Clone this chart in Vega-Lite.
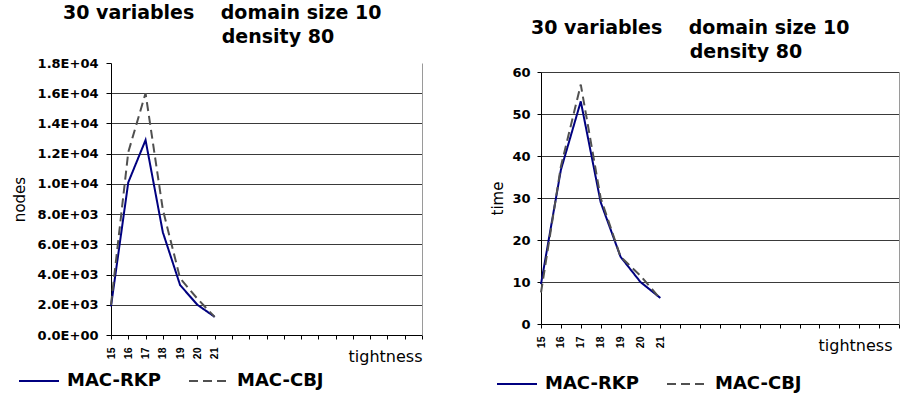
{
  "$schema": "https://vega.github.io/schema/vega-lite/v6.json",
  "background": "white",
  "padding": {"left": 12, "top": 4, "right": 0, "bottom": 0},
  "spacing": 62,
  "datasets": {
    "nodes": [
      {"tightness": 15, "series": "MAC-RKP", "value": 1900},
      {"tightness": 16, "series": "MAC-RKP", "value": 10100},
      {"tightness": 17, "series": "MAC-RKP", "value": 12900},
      {"tightness": 18, "series": "MAC-RKP", "value": 6800},
      {"tightness": 19, "series": "MAC-RKP", "value": 3300},
      {"tightness": 20, "series": "MAC-RKP", "value": 2000},
      {"tightness": 21, "series": "MAC-RKP", "value": 1200},
      {"tightness": 15, "series": "MAC-CBJ", "value": 2000},
      {"tightness": 16, "series": "MAC-CBJ", "value": 12100},
      {"tightness": 17, "series": "MAC-CBJ", "value": 16000},
      {"tightness": 18, "series": "MAC-CBJ", "value": 8300},
      {"tightness": 19, "series": "MAC-CBJ", "value": 3750},
      {"tightness": 20, "series": "MAC-CBJ", "value": 2400},
      {"tightness": 21, "series": "MAC-CBJ", "value": 1200}
    ],
    "time": [
      {"tightness": 15, "series": "MAC-RKP", "value": 9.5},
      {"tightness": 16, "series": "MAC-RKP", "value": 36.7},
      {"tightness": 17, "series": "MAC-RKP", "value": 53},
      {"tightness": 18, "series": "MAC-RKP", "value": 29},
      {"tightness": 19, "series": "MAC-RKP", "value": 16},
      {"tightness": 20, "series": "MAC-RKP", "value": 10},
      {"tightness": 21, "series": "MAC-RKP", "value": 6.2},
      {"tightness": 15, "series": "MAC-CBJ", "value": 7.5},
      {"tightness": 16, "series": "MAC-CBJ", "value": 37.5},
      {"tightness": 17, "series": "MAC-CBJ", "value": 57},
      {"tightness": 18, "series": "MAC-CBJ", "value": 30},
      {"tightness": 19, "series": "MAC-CBJ", "value": 16},
      {"tightness": 20, "series": "MAC-CBJ", "value": 11.5},
      {"tightness": 21, "series": "MAC-CBJ", "value": 6}
    ]
  },
  "hconcat": [
    {
      "width": 311,
      "height": 272,
      "data": {"name": "nodes"},
      "title": {
        "text": ["30 variables\u00a0\u00a0\u00a0\u00a0domain size 10", "\u200b\u00a0\u00a0\u00a0\u00a0\u00a0\u00a0\u00a0\u00a0\u00a0\u00a0\u00a0\u00a0\u00a0\u00a0\u00a0\u00a0\u00a0\u00a0\u00a0\u00a0\u00a0\u00a0\u00a0\u00a0density 80"],
        "anchor": "start", "frame": "group", "dx": -48, "offset": 10,
        "font": "DejaVu Sans", "fontSize": 19, "fontWeight": "bold", "lineHeight": 24, "color": "#000"
      },
      "layer": [
        {
          "mark": {"type": "line", "strokeWidth": 2},
          "encoding": {
            "x": {"field": "tightness", "type": "quantitative",
              "scale": {"domain": [15, 33], "nice": false, "zero": false},
              "axis": {
                "values": [15,16,17,18,19,20,21,22,23,24,25,26,27,28,29,30,31,32,33], "tickCount": 40, "format": "d",
                "labelExpr": "datum.value <= 21 ? datum.label : ''", "labelOverlap": false,
                "labelAngle": -90, "labelFont": "Liberation Sans", "labelFontWeight": "bold", "labelFontSize": 10.5,
                "labelColor": "#000", "labelPadding": 8, "tickSize": 4, "tickColor": "#000", "domainColor": "#000",
                "grid": false, "title": "tightness", "titleAnchor": "end", "titleAlign": "right",
                "titleY": 26, "titleBaseline": "alphabetic",
                "titleFont": "DejaVu Sans", "titleFontSize": 16, "titleFontWeight": "normal", "titleColor": "#000"
              }
            },
            "y": {"field": "value", "type": "quantitative",
              "scale": {"domain": [0, 18000], "nice": false},
              "axis": {
                "values": [0,2000,4000,6000,8000,10000,12000,14000,16000,18000], "tickCount": 20,
                "labelExpr": "datum.value == 0 ? '0.0E+00' : (datum.value >= 10000 ? format(datum.value/10000, '.1f') + 'E+04' : format(datum.value/1000, '.1f') + 'E+03')",
                "labelOverlap": false,
                "labelFont": "DejaVu Sans", "labelFontWeight": "bold", "labelFontSize": 13, "labelColor": "#000",
                "labelPadding": 8, "tickSize": 5, "tickColor": "#000", "domainColor": "#000",
                "grid": true, "gridColor": {"condition": {"test": "datum.value >= 18000", "value": "transparent"}, "value": "#3a3a3a"},
                "gridOpacity": 1,
                "title": "nodes", "titleFont": "DejaVu Sans", "titleFontSize": 15, "titleFontWeight": "normal",
                "titleColor": "#000", "titlePadding": 10
              }
            },
            "color": {"field": "series", "type": "nominal",
              "scale": {"domain": ["MAC-RKP", "MAC-CBJ"], "range": ["#000080", "#505050"]},
              "legend": {
                "orient": "none", "legendX": -93, "legendY": 297, "direction": "horizontal", "title": null,
                "symbolType": "stroke", "symbolSize": 1600, "symbolStrokeWidth": 2,
                "labelFont": "DejaVu Sans", "labelFontWeight": "bold", "labelFontSize": 18, "labelColor": "#000",
                "labelOffset": 7, "columnPadding": 24, "padding": 0
              }
            },
            "strokeDash": {"field": "series", "type": "nominal",
              "scale": {"domain": ["MAC-RKP", "MAC-CBJ"], "range": [[1, 0], [9, 5]]},
              "legend": {
                "orient": "none", "legendX": -93, "legendY": 297, "direction": "horizontal", "title": null,
                "symbolType": "stroke", "symbolSize": 1600, "symbolStrokeWidth": 2,
                "labelFont": "DejaVu Sans", "labelFontWeight": "bold", "labelFontSize": 18, "labelColor": "#000",
                "labelOffset": 7, "columnPadding": 24, "padding": 0
              }
            }
          }
        },
        {
          "mark": {"type": "line", "opacity": 0},
          "encoding": {
            "x": {"field": "tightness", "type": "quantitative"},
            "y": {"field": "value", "type": "quantitative",
              "axis": {"orient": "right", "labels": false, "ticks": false, "grid": false, "title": null, "domainColor": "#9a9a9a"}
            }
          }
        }
      ],
      "resolve": {"axis": {"y": "independent"}}
    },
    {
      "width": 358,
      "height": 261,
      "data": {"name": "time"},
      "title": {
        "text": ["30 variables\u00a0\u00a0\u00a0\u00a0domain size 10", "\u200b\u00a0\u00a0\u00a0\u00a0\u00a0\u00a0\u00a0\u00a0\u00a0\u00a0\u00a0\u00a0\u00a0\u00a0\u00a0\u00a0\u00a0\u00a0\u00a0\u00a0\u00a0\u00a0\u00a0\u00a0density 80"],
        "anchor": "start", "frame": "group", "dx": -10, "offset": 1,
        "font": "DejaVu Sans", "fontSize": 19, "fontWeight": "bold", "lineHeight": 24, "color": "#000"
      },
      "layer": [
        {
          "mark": {"type": "line", "strokeWidth": 2},
          "encoding": {
            "x": {"field": "tightness", "type": "quantitative",
              "scale": {"domain": [15, 33], "nice": false, "zero": false},
              "axis": {
                "values": [15,16,17,18,19,20,21,22,23,24,25,26,27,28,29,30,31,32,33], "tickCount": 40, "format": "d",
                "labelExpr": "datum.value <= 21 ? datum.label : ''", "labelOverlap": false,
                "labelAngle": -90, "labelFont": "Liberation Sans", "labelFontWeight": "bold", "labelFontSize": 10.5,
                "labelColor": "#000", "labelPadding": 8, "tickSize": 4, "tickColor": "#000", "domainColor": "#000",
                "grid": false, "title": "tightness", "titleAnchor": "end", "titleAlign": "right",
                "titleX": 351, "titleY": 26, "titleBaseline": "alphabetic",
                "titleFont": "DejaVu Sans", "titleFontSize": 16, "titleFontWeight": "normal", "titleColor": "#000"
              }
            },
            "y": {"field": "value", "type": "quantitative",
              "scale": {"domain": [0, 60], "nice": false, "range": [261, 9]},
              "axis": {
                "values": [0,10,20,30,40,50,60], "tickCount": 20, "format": "d", "labelOverlap": false,
                "labelFont": "DejaVu Sans", "labelFontWeight": "bold", "labelFontSize": 13, "labelColor": "#000",
                "labelPadding": 7, "tickSize": 4, "tickColor": "#000", "domainColor": "#000",
                "grid": true, "gridColor": "#3a3a3a", "gridOpacity": 1,
                "title": "time", "titleFont": "DejaVu Sans", "titleFontSize": 15, "titleFontWeight": "normal",
                "titleColor": "#000", "titlePadding": 6
              }
            },
            "color": {"field": "series", "type": "nominal",
              "scale": {"domain": ["MAC-RKP", "MAC-CBJ"], "range": ["#000080", "#505050"]},
              "legend": {
                "orient": "none", "legendX": -45, "legendY": 300, "direction": "horizontal", "title": null,
                "symbolType": "stroke", "symbolSize": 1600, "symbolStrokeWidth": 2,
                "labelFont": "DejaVu Sans", "labelFontWeight": "bold", "labelFontSize": 18, "labelColor": "#000",
                "labelOffset": 7, "columnPadding": 24, "padding": 0
              }
            },
            "strokeDash": {"field": "series", "type": "nominal",
              "scale": {"domain": ["MAC-RKP", "MAC-CBJ"], "range": [[1, 0], [9, 5]]},
              "legend": {
                "orient": "none", "legendX": -45, "legendY": 300, "direction": "horizontal", "title": null,
                "symbolType": "stroke", "symbolSize": 1600, "symbolStrokeWidth": 2,
                "labelFont": "DejaVu Sans", "labelFontWeight": "bold", "labelFontSize": 18, "labelColor": "#000",
                "labelOffset": 7, "columnPadding": 24, "padding": 0
              }
            }
          }
        },
        {
          "mark": {"type": "line", "opacity": 0},
          "encoding": {
            "x": {"field": "tightness", "type": "quantitative"},
            "y": {"field": "value", "type": "quantitative",
              "axis": {"orient": "right", "labels": false, "ticks": false, "grid": false, "title": null, "domainColor": "#9a9a9a"}
            }
          }
        }
      ],
      "resolve": {"axis": {"y": "independent"}}
    }
  ],
  "resolve": {"legend": {"color": "independent", "strokeDash": "independent"}, "scale": {"color": "independent", "strokeDash": "independent"}},
  "config": {"view": {"stroke": null}}
}
